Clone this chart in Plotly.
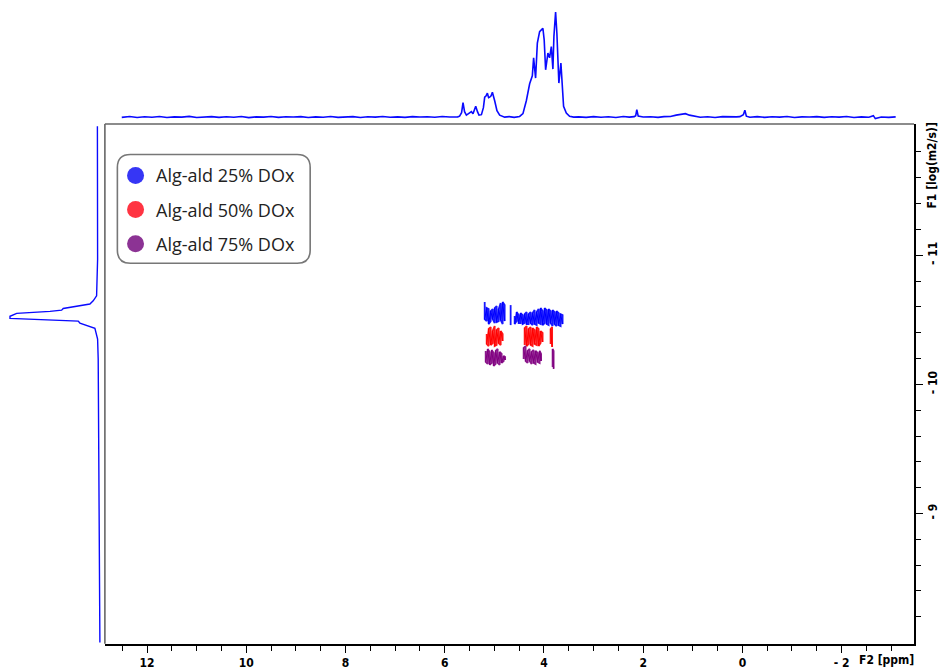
import plotly.graph_objects as go

# ---------------- data ----------------
# 1D proton projection (top): chemical shift (ppm) and intensity (a.u.)
top_ppm = [12.51, 12.35, 12.2, 12.05, 11.9, 11.75, 11.6, 11.45, 11.3, 11.15, 11.0, 10.85, 10.7, 10.55, 10.4,
           10.25, 10.1, 9.95, 9.8, 9.65, 9.5, 9.35, 9.2, 9.05, 8.9, 8.75, 8.6, 8.45, 8.3, 8.15, 8.0, 7.85,
           7.7, 7.55, 7.4, 7.25, 7.1, 6.95, 6.8, 6.65, 6.5, 6.35, 6.2, 6.05, 5.9,
           5.80, 5.738, 5.70, 5.66, 5.631, 5.60, 5.563, 5.52, 5.462, 5.43, 5.40, 5.375, 5.34, 5.309, 5.26,
           5.22, 5.194, 5.165, 5.140, 5.115, 5.094, 5.065, 5.039, 5.015, 4.993, 4.947, 4.892, 4.792, 4.70,
           4.60, 4.49, 4.423, 4.355, 4.288, 4.234, 4.208, 4.168, 4.133, 4.087, 4.053, 4.021, 3.995, 3.966,
           3.920, 3.886, 3.851, 3.819, 3.799, 3.765, 3.739, 3.699, 3.658, 3.630, 3.604, 3.549, 3.483, 3.40,
           3.3, 3.15, 3.0, 2.85, 2.7, 2.55, 2.4, 2.28, 2.18, 2.15, 2.128, 2.10, 2.0, 1.85, 1.7, 1.58, 1.45,
           1.335, 1.25, 1.148, 1.067, 0.95, 0.85, 0.7, 0.55, 0.4, 0.25, 0.12, 0.05, -0.02, -0.05, -0.08,
           -0.15, -0.3, -0.45, -0.6, -0.75, -0.9, -1.05, -1.2, -1.35, -1.5, -1.65, -1.8, -1.95, -2.1, -2.25,
           -2.4, -2.55, -2.64, -2.68, -2.8, -2.95, -3.09]
top_int = [0.3, 1.1, 0.2, 0.9, 0.4, 1.2, 0.1, 0.8, 0.5, 1.3, 0.2, 0.7, 1.0, 0.3, 0.9,
           0.4, 1.1, 0.0, 0.8, 0.5, 1.2, 0.3, 0.9, 0.6, 1.0, 0.2, 0.8, 0.4, 1.1, 0.3, 0.7, 1.0,
           0.2, 0.9, 0.5, 1.2, 0.4, 0.8, 0.3, 1.0, 0.6, 0.9, 0.4, 1.1, 0.6,
           0.5, 0.8, 1.5, 5, 15, 6, 2.5, 4, 6, 4, 8, 11.5, 6, 2.5, 3,
           10, 20.5, 22, 24.5, 20, 20.5, 22, 25.5, 19, 17, 7, 2.5, 0.5, 1,
           0.3, 1.2, 4, 17, 34, 42, 60, 39.7, 74.7, 86.3, 88, 89.7, 78, 48,
           64.7, 60, 71.3, 48.7, 81.3, 106, 84.7, 34.7, 54.7, 34.7, 11.3, 4.7, 1.3, 0.5,
           0.8, 0.3, 1.0, 0.4, 0.9, 0.2, 1.1, 0.5, 1.0, 2.0, 8.0, 1.5, 0.6, 0.9, 0.3, 1.0, 1.2,
           2.5, 3.0, 4.0, 2.5, 1.0, 0.4, 0.9, 0.2, 1.0, 0.5, 0.8, 1.0, 3.0, 7.5, 1.5,
           0.4, 1.0, 0.3, 0.9, 0.5, 1.1, 0.2, 0.8, 0.6, 1.0, 0.3, 0.9, 0.5, 1.1, 0.2,
           0.8, 0.4, 2.0, -1.0, 0.7, 0.3, 0.8]

# diffusion projection (left): log D and intensity (a.u.)
left_logd = [-12.0, -10.969, -10.686, -10.647, -10.622, -10.588, -10.575, -10.565, -10.550,
             -10.527, -10.511, -10.490, -10.475, -10.434, -10.351, -10.197, -8.0]
left_int = [0.5, 0.3, 1.3, 4.7, 8, 34.7, 36.3, 48, 81.3, 88, 88, 19.7, 18, 3, 0.3, -0.3, -2]

# 2D DOSY cross-peaks: ppm of each contour stroke, upper and lower log D edge
series_names = ["Alg-ald 25% DOx", "Alg-ald 50% DOx", "Alg-ald 75% DOx"]

dox25_ppm = [5.194, 5.154, 5.114, 5.073, 5.033, 4.993, 4.953, 4.912, 4.872, 4.832, 4.792,
             4.671,
             4.590, 4.550, 4.510, 4.470, 4.429, 4.389, 4.349, 4.309, 4.268, 4.228, 4.188, 4.147,
             4.107, 4.067, 4.027, 3.986, 3.946, 3.906, 3.866, 3.825, 3.785, 3.745, 3.704, 3.664, 3.624]
dox25_top = [-10.637, -10.591, -10.583, -10.568, -10.583, -10.591, -10.606, -10.583, -10.629, -10.637, -10.614,
             -10.614,
             -10.529, -10.560, -10.537, -10.552, -10.537, -10.544, -10.560, -10.544, -10.560, -10.552, -10.575,
             -10.560, -10.583, -10.591, -10.568, -10.591, -10.575, -10.583, -10.568, -10.575, -10.560, -10.568,
             -10.552, -10.544, -10.537]
dox25_bot = [-10.506, -10.490, -10.467, -10.490, -10.506, -10.475, -10.483, -10.490, -10.498, -10.467, -10.490,
             -10.459,
             -10.467, -10.490, -10.475, -10.475, -10.467, -10.475, -10.467, -10.467, -10.475, -10.459, -10.467,
             -10.459, -10.475, -10.467, -10.459, -10.475, -10.467, -10.459, -10.475, -10.452, -10.467, -10.452,
             -10.459, -10.452, -10.467]

dox50_ppm = [5.154, 5.114, 5.073, 5.033, 4.993, 4.953, 4.912, 4.872, 4.832,
             4.389, 4.349, 4.309, 4.268, 4.228, 4.188, 4.147, 4.107, 4.067, 4.027,
             3.866, 3.835]
dox50_top = [-10.390, -10.429, -10.444, -10.413, -10.452, -10.421, -10.436, -10.413, -10.390,
             -10.436, -10.452, -10.429, -10.444, -10.436, -10.421, -10.444, -10.429, -10.413, -10.398,
             -10.429, -10.444]
dox50_bot = [-10.313, -10.297, -10.305, -10.320, -10.297, -10.305, -10.320, -10.305, -10.336,
             -10.305, -10.297, -10.313, -10.305, -10.297, -10.313, -10.305, -10.297, -10.320, -10.328,
             -10.313, -10.290]

dox75_ppm = [5.174, 5.134, 5.094, 5.053, 5.013, 4.973, 4.933, 4.892, 4.852, 4.812, 4.782,
             4.409, 4.369, 4.329, 4.288, 4.248, 4.208, 4.168, 4.127, 4.087, 4.057,
             3.825, 3.805]
dox75_top = [-10.259, -10.274, -10.251, -10.266, -10.243, -10.259, -10.274, -10.251, -10.236, -10.220, -10.212,
             -10.282, -10.297, -10.259, -10.274, -10.251, -10.266, -10.259, -10.243, -10.259, -10.236,
             -10.274, -10.259]
dox75_bot = [-10.174, -10.158, -10.151, -10.166, -10.143, -10.158, -10.166, -10.151, -10.166, -10.181, -10.189,
             -10.197, -10.181, -10.166, -10.181, -10.158, -10.166, -10.158, -10.174, -10.166, -10.181,
             -10.135, -10.120]

x_tick_vals = [12, 10, 8, 6, 4, 2, 0, -2]
x_tick_text = ["12", "10", "8", "6", "4", "2", "0", "- 2"]
y_tick_vals = [-11, -10, -9]
y_tick_text = ["- 11", "- 10", "- 9"]

contour_colors = ["#0000ff", "#ff0000", "#800080"]
legend_colors = ["#3636f5", "#ff3442", "#8c3394"]

# ---------------- helpers ----------------
W, H = 940, 670


def px(x):
    return x / W


def py(y):
    return 1 - y / H


def meander(ppm, top, bot):
    xs, ys = [], []
    for i, (p, t, b) in enumerate(zip(ppm, top, bot)):
        if i > 0 and abs(p - ppm[i - 1]) > 0.06:
            xs.append(None)
            ys.append(None)
        xs += [p, p]
        ys += [t, b] if i % 2 == 0 else [b, t]
    return xs, ys


def zigzag(ppm, top, bot):
    xs, ys = [], []
    for i, (p, t, b) in enumerate(zip(ppm, top, bot)):
        if i > 0 and abs(p - ppm[i - 1]) > 0.06:
            xs.append(None)
            ys.append(None)
        xs.append(p)
        ys.append(b if i % 2 == 0 else t)
    return xs, ys


fig = go.Figure()

for name, col, (pp, tt, bb) in zip(series_names, contour_colors,
                                   [(dox25_ppm, dox25_top, dox25_bot),
                                    (dox50_ppm, dox50_top, dox50_bot),
                                    (dox75_ppm, dox75_top, dox75_bot)]):
    xs, ys = meander(pp, tt, bb)
    fig.add_trace(go.Scatter(x=xs, y=ys, mode="lines", name=name, showlegend=False,
                             line=dict(color=col, width=1.8), opacity=0.9, xaxis="x", yaxis="y",
                             hoverinfo="skip"))
    zx, zy = zigzag(pp, tt, bb)
    fig.add_trace(go.Scatter(x=zx, y=zy, mode="lines", name=name, showlegend=False,
                             line=dict(color=col, width=1.1), xaxis="x", yaxis="y",
                             hoverinfo="skip"))

fig.add_trace(go.Scatter(x=top_ppm, y=top_int, mode="lines", showlegend=False,
                         line=dict(color="#0a0aff", width=1.6), xaxis="x2", yaxis="y2"))
fig.add_trace(go.Scatter(x=left_int, y=left_logd, mode="lines", showlegend=False,
                         line=dict(color="#0a0aff", width=1.4), xaxis="x3", yaxis="y3"))

tick_font = dict(family="Liberation Sans Narrow, Arial Narrow, DejaVu Sans Condensed, sans-serif",
                 size=12, color="black", weight="bold")

x_dom = [px(105), px(915)]
y_dom = [py(645.7), py(124.3)]
x_range = [12.85, -3.46]
y_range = [-7.991, -12.017]

x_minor = [v / 2 for v in range(-6, 26) if v % 4 != 0]
y_minor = [round(-12 + 0.2 * k, 1) for k in range(0, 21) if k % 5 != 0]

fig.update_layout(
    width=W, height=H, margin=dict(l=0, r=0, t=0, b=0),
    paper_bgcolor="white", plot_bgcolor="white", showlegend=False,
    xaxis=dict(domain=x_dom, range=x_range, anchor="y", showgrid=False, zeroline=False,
               showline=True, linecolor="black", linewidth=1.5,
               ticks="outside", tickvals=x_tick_vals, ticktext=x_tick_text,
               ticklen=7, tickwidth=1.3, tickcolor="black", tickfont=tick_font,
               minor=dict(tickvals=x_minor, ticks="outside", ticklen=5, tickwidth=1.2,
                          tickcolor="black", showgrid=False)),
    yaxis=dict(domain=y_dom, range=y_range, anchor="x", side="right", showgrid=False,
               zeroline=False, showline=True, linecolor="black", linewidth=1.5,
               ticks="outside", tickvals=y_tick_vals, ticktext=y_tick_text, tickangle=-90,
               ticklen=7, tickwidth=1.3, tickcolor="black", tickfont=tick_font,
               minor=dict(tickvals=y_minor, ticks="outside", ticklen=5, tickwidth=1.2,
                          tickcolor="black", showgrid=False)),
    xaxis2=dict(domain=x_dom, range=x_range, anchor="y2", visible=False),
    yaxis2=dict(domain=[py(124.3), 1], range=[-6.3, 118], anchor="x2", visible=False),
    xaxis3=dict(domain=[0, px(104)], range=[98, -6], anchor="y3", visible=False),
    yaxis3=dict(domain=y_dom, range=y_range, anchor="x3", visible=False),
)

# grey top / left frame lines
fig.add_shape(type="line", xref="paper", yref="paper", x0=px(105), x1=px(915), y0=py(124.3), y1=py(124.3),
              line=dict(color="#666666", width=1.6))
fig.add_shape(type="line", xref="paper", yref="paper", x0=px(105), x1=px(105), y0=py(124.3), y1=py(645.7),
              line=dict(color="#666666", width=1.6))

# axis titles
fig.add_annotation(xref="paper", yref="paper", x=px(887), y=py(662), text="F2 [ppm]", showarrow=False,
                   font=tick_font, xanchor="center", yanchor="middle")
fig.add_annotation(xref="paper", yref="paper", x=px(932), y=py(166), text="F1 [log(m2/s)]", showarrow=False,
                   font=tick_font, textangle=-90, xanchor="center", yanchor="middle")

# legend box (rounded)
x0, x1, y0, y1, r = 117.5, 310.5, 155, 264, 13
path = (f"M {px(x0 + r)},{py(y0)} L {px(x1 - r)},{py(y0)} Q {px(x1)},{py(y0)} {px(x1)},{py(y0 + r)} "
        f"L {px(x1)},{py(y1 - r)} Q {px(x1)},{py(y1)} {px(x1 - r)},{py(y1)} "
        f"L {px(x0 + r)},{py(y1)} Q {px(x0)},{py(y1)} {px(x0)},{py(y1 - r)} "
        f"L {px(x0)},{py(y0 + r)} Q {px(x0)},{py(y0)} {px(x0 + r)},{py(y0)} Z")
fig.add_shape(type="path", xref="paper", yref="paper", path=path,
              line=dict(color="#777777", width=1.6), fillcolor="white", layer="above")

for i, (name, col) in enumerate(zip(series_names, legend_colors)):
    cy = 176 + 34.2 * i
    fig.add_shape(type="circle", xref="paper", yref="paper",
                  x0=px(127.2), x1=px(144.2), y0=py(cy - 8.5), y1=py(cy + 8.5),
                  fillcolor=col, line=dict(color=col, width=0), layer="above")
    fig.add_annotation(xref="paper", yref="paper", x=px(154), y=py(cy), text=name, showarrow=False,
                       xanchor="left", yanchor="middle",
                       font=dict(family="Open Sans, Noto Sans, sans-serif", size=18, color="#222222"))

fig.write_html("out.html", config={"displayModeBar": False},
               post_script="document.body.style.margin='0px';document.body.style.overflow='hidden';")
